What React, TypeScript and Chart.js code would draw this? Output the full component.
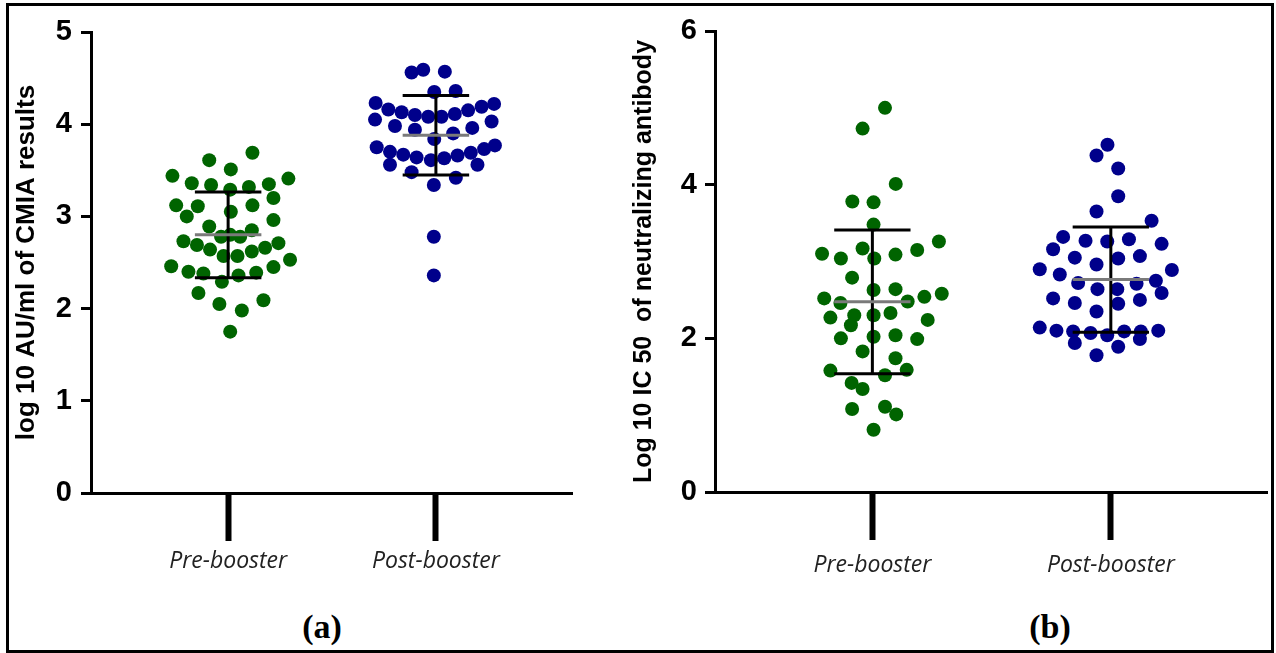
import React, { useEffect, useRef } from "react";
import { Chart, registerables } from "chart.js";

Chart.register(...registerables);

// ---------- shared ----------
const categories = ["Pre-booster", "Post-booster"];
const categoryPositions = [1, 2];
const preColor = "#006400";
const postColor = "#00008B";

// ---------- panel (a): log10 AU/ml of CMIA ----------
const yTicksA = [0, 1, 2, 3, 4, 5];
const preA_values = [3.69, 3.61, 3.51, 3.44, 3.41, 3.36, 3.34, 3.29, 3.32, 3.35, 3.20, 3.12, 3.11, 3.12, 3.00, 3.05, 2.96, 2.89, 2.85, 2.78, 2.78, 2.80, 2.73, 2.69, 2.64, 2.71, 2.66, 2.62, 2.57, 2.57, 2.53, 2.46, 2.40, 2.38, 2.45, 2.39, 2.36, 2.29, 2.17, 2.05, 1.98, 2.09, 1.75];
const preA_jitter = [0.117, -0.091, 0.013, -0.268, 0.29, -0.175, -0.082, 0.01, 0.10, 0.196, 0.218, -0.25, -0.146, 0.117, -0.199, 0.013, 0.218, -0.091, 0.114, -0.034, 0.058, 0.01, -0.215, -0.15, -0.087, 0.242, 0.178, 0.114, -0.022, 0.045, 0.298, -0.274, -0.191, -0.119, 0.218, 0.135, 0.05, -0.03, -0.143, -0.042, 0.066, 0.17, 0.01];
const postA_values = [4.56, 4.59, 4.57, 4.35, 4.36, 4.23, 4.16, 4.13, 4.10, 4.08, 4.08, 4.11, 4.15, 4.19, 4.22, 4.05, 3.98, 3.94, 3.90, 3.96, 4.03, 3.84, 3.75, 3.70, 3.67, 3.64, 3.61, 3.63, 3.66, 3.69, 3.73, 3.77, 3.56, 3.48, 3.56, 3.42, 3.34, 2.78, 2.36];
const postA_jitter = [-0.117, -0.061, 0.043, -0.008, 0.095, -0.29, -0.229, -0.165, -0.101, -0.037, 0.027, 0.091, 0.155, 0.22, 0.28, -0.293, -0.197, -0.101, 0.083, 0.175, 0.268, -0.008, -0.285, -0.221, -0.157, -0.093, -0.024, 0.04, 0.104, 0.168, 0.232, 0.284, -0.221, -0.117, 0.2, 0.096, -0.01, -0.01, -0.01];
const meanA = [2.8, 3.88];
const sdA = [0.465, 0.43];

// ---------- panel (b): log10 IC50 of neutralizing antibody ----------
const yTicksB = [0, 2, 4, 6];
const preB_values = [5.00, 4.73, 4.01, 3.78, 3.77, 3.48, 3.10, 3.04, 3.17, 3.04, 3.09, 3.15, 3.26, 2.79, 2.63, 2.64, 2.52, 2.46, 2.48, 2.54, 2.58, 2.27, 2.30, 2.17, 2.30, 2.33, 2.24, 2.00, 2.02, 2.04, 1.99, 1.83, 1.74, 1.58, 1.42, 1.34, 1.52, 1.59, 1.08, 1.11, 1.01, 0.81];
const preB_jitter = [0.053, -0.041, 0.098, -0.084, 0.005, 0.005, -0.211, -0.132, -0.041, 0.008, 0.097, 0.188, 0.279, -0.085, 0.005, 0.097, -0.202, -0.134, 0.148, 0.218, 0.291, -0.176, -0.076, -0.09, 0.005, 0.076, 0.232, -0.132, 0.005, 0.097, 0.188, -0.041, 0.097, -0.176, -0.087, -0.041, 0.053, 0.144, -0.085, 0.053, 0.1, 0.005];
const postB_values = [4.52, 4.38, 4.21, 3.85, 3.65, 3.53, 3.32, 3.27, 3.26, 3.29, 3.23, 3.16, 3.05, 3.04, 3.07, 2.96, 2.90, 2.83, 2.72, 2.64, 2.64, 2.71, 2.75, 2.59, 2.52, 2.46, 2.45, 2.50, 2.35, 2.14, 2.10, 2.09, 2.07, 2.04, 2.09, 2.09, 2.10, 1.94, 1.89, 1.99, 1.78, 2.89];
const postB_jitter = [-0.014, -0.06, 0.031, 0.031, -0.06, 0.171, -0.2, -0.106, -0.015, 0.076, 0.213, -0.242, -0.151, 0.031, 0.122, -0.06, -0.298, -0.214, -0.137, -0.056, 0.027, 0.108, 0.189, 0.213, -0.242, -0.151, 0.031, 0.122, -0.06, -0.298, -0.228, -0.158, -0.085, -0.015, 0.056, 0.126, 0.199, -0.151, 0.031, 0.122, -0.06, 0.256];
const meanB = [2.475, 2.765];
const sdB = [0.935, 0.685];

const capHalfWidth = 0.16;

function toPoints(values: number[], jitter: number[], catIndex: number) {
  return values.map((v, i) => ({ x: categoryPositions[catIndex] + jitter[i], y: v }));
}

function errorBarPlugin(means: number[], sds: number[]) {
  return {
    id: "errbars",
    afterDatasetsDraw(chart: any) {
      const { ctx, scales } = chart;
      const x = scales.x;
      const y = scales.y;
      ctx.save();
      ctx.lineCap = "butt";
      means.forEach((m: number, i: number) => {
        const cx = x.getPixelForValue(categoryPositions[i]);
        const x0 = x.getPixelForValue(categoryPositions[i] - capHalfWidth);
        const x1 = x.getPixelForValue(categoryPositions[i] + capHalfWidth);
        const yt = y.getPixelForValue(m + sds[i]);
        const yb = y.getPixelForValue(m - sds[i]);
        const ym = y.getPixelForValue(m);
        ctx.strokeStyle = "#000";
        ctx.lineWidth = 3;
        ctx.beginPath();
        ctx.moveTo(cx, yt);
        ctx.lineTo(cx, yb);
        ctx.moveTo(x0, yt);
        ctx.lineTo(x1, yt);
        ctx.moveTo(x0, yb);
        ctx.lineTo(x1, yb);
        ctx.stroke();
        ctx.strokeStyle = "#7a7a7a";
        ctx.beginPath();
        ctx.moveTo(x0, ym);
        ctx.lineTo(x1, ym);
        ctx.stroke();
      });
      ctx.restore();
    },
  };
}

type PanelCfg = {
  pre: { x: number; y: number }[];
  post: { x: number; y: number }[];
  yMax: number;
  yTicks: number[];
  yTitle: string;
  yTitleSize: number;
  yAxisWidth: number;
  titlePadTop: number;
  padTop: number;
  padRight: number;
  xAxisHeight: number;
  xLabelPad: number;
  tickPad: number;
  means: number[];
  sds: number[];
};

function makeConfig(c: PanelCfg): any {
  return {
    type: "scatter",
    data: {
      datasets: [
        { data: c.pre, backgroundColor: preColor, borderColor: preColor, borderWidth: 0, pointRadius: 7, pointHoverRadius: 7 },
        { data: c.post, backgroundColor: postColor, borderColor: postColor, borderWidth: 0, pointRadius: 7, pointHoverRadius: 7 },
      ],
    },
    options: {
      animation: false,
      responsive: false,
      events: [],
      layout: { padding: { left: 0, top: c.padTop, right: c.padRight, bottom: 0 } },
      plugins: { legend: { display: false }, tooltip: { enabled: false } },
      scales: {
        x: {
          type: "linear",
          min: 0.34,
          max: 2.655,
          afterBuildTicks: (s: any) => {
            s.ticks = categoryPositions.map((v) => ({ value: v }));
          },
          afterFit: (s: any) => {
            s.height = c.xAxisHeight;
          },
          grid: { drawOnChartArea: false, drawTicks: true, tickLength: 48, tickWidth: 6, tickColor: "#000" },
          border: { display: true, color: "#000", width: 3 },
          ticks: {
            autoSkip: false,
            maxRotation: 0,
            padding: c.xLabelPad,
            color: "#222",
            font: { family: "'Open Sans', sans-serif", style: "italic", size: 23 },
            callback: (v: any) => {
              const idx = categoryPositions.indexOf(Number(v));
              return idx >= 0 ? categories[idx] : "";
            },
          },
        },
        y: {
          type: "linear",
          min: 0,
          max: c.yMax,
          afterBuildTicks: (s: any) => {
            s.ticks = c.yTicks.map((v) => ({ value: v }));
          },
          afterFit: (s: any) => {
            s.width = c.yAxisWidth;
          },
          grid: { drawOnChartArea: false, drawTicks: true, tickLength: 10, tickWidth: 3, tickColor: "#000" },
          border: { display: true, color: "#000", width: 3 },
          ticks: {
            padding: c.tickPad,
            color: "#000",
            font: { family: "'Liberation Sans', Arial, sans-serif", weight: "bold", size: 29 },
          },
          title: {
            display: true,
            text: c.yTitle,
            color: "#000",
            font: { family: "'Liberation Sans', Arial, sans-serif", weight: "bold", size: c.yTitleSize },
            padding: { top: c.titlePadTop, bottom: 0 },
          },
        },
      },
    },
    plugins: [errorBarPlugin(c.means, c.sds)],
  };
}

function Panel(props: { cfg: PanelCfg; left: number; width: number; height: number }) {
  const ref = useRef<HTMLCanvasElement | null>(null);
  useEffect(() => {
    if (!ref.current) return;
    const chart = new Chart(ref.current, makeConfig(props.cfg));
    return () => chart.destroy();
  }, []);
  return (
    <canvas
      ref={ref}
      width={props.width}
      height={props.height}
      style={{ position: "absolute", left: props.left, top: 0, width: props.width, height: props.height }}
    />
  );
}

const panelA: PanelCfg = {
  pre: toPoints(preA_values, preA_jitter, 0),
  post: toPoints(postA_values, postA_jitter, 1),
  yMax: 5,
  yTicks: yTicksA,
  yTitle: "log 10 AU/ml of CMIA results",
  yTitleSize: 26,
  yAxisWidth: 91,
  titlePadTop: 11,
  padTop: 32,
  padRight: 28,
  xAxisHeight: 107,
  xLabelPad: 7,
  tickPad: 9,
  means: meanA,
  sds: sdA,
};

const panelB: PanelCfg = {
  pre: toPoints(preB_values, preB_jitter, 0),
  post: toPoints(postB_values, postB_jitter, 1),
  yMax: 6,
  yTicks: yTicksB,
  yTitle: "Log 10 IC 50  of neutralizing antibody",
  yTitleSize: 25,
  yAxisWidth: 115,
  titlePadTop: 29,
  padTop: 31,
  padRight: 9,
  xAxisHeight: 108,
  xLabelPad: 12,
  tickPad: 8,
  means: meanB,
  sds: sdB,
};

const captionStyle: React.CSSProperties = {
  position: "absolute",
  top: 607,
  width: 100,
  height: 40,
  lineHeight: "40px",
  textAlign: "center",
  fontFamily: "'Liberation Serif', 'Times New Roman', serif",
  fontWeight: "bold",
  fontSize: 34,
  color: "#000",
};

export default function App() {
  return (
    <div style={{ position: "absolute", left: 0, top: 0, width: 1276, height: 653, background: "#fff", overflow: "hidden" }}>
      <Panel cfg={panelA} left={0} width={600} height={600} />
      <Panel cfg={panelB} left={600} width={676} height={600} />
      <div style={{ ...captionStyle, left: 272 }}>(a)</div>
      <div style={{ ...captionStyle, left: 1000 }}>(b)</div>
      <div
        style={{
          position: "absolute",
          left: 6,
          top: 3,
          width: 1268,
          height: 650,
          boxSizing: "border-box",
          border: "3px solid #000",
          pointerEvents: "none",
        }}
      />
    </div>
  );
}
